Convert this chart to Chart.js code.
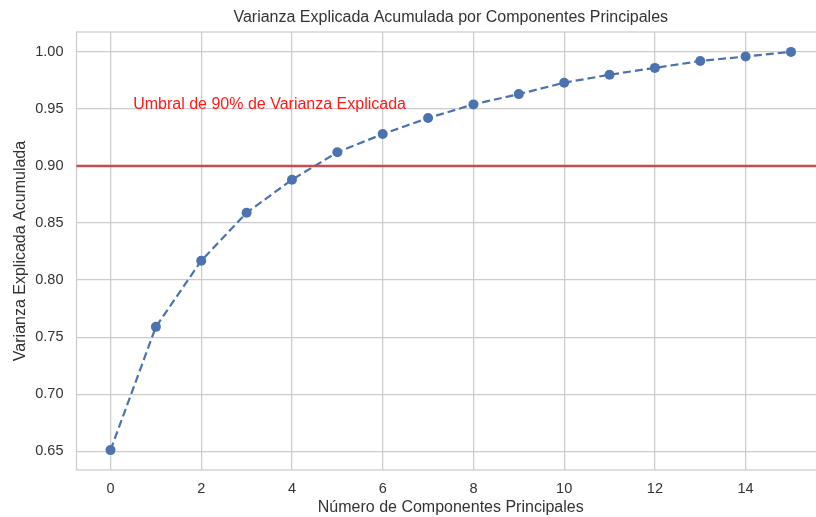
<!DOCTYPE html>
<html>
<head>
<meta charset="utf-8">
<script src="https://cdn.jsdelivr.net/npm/chart.js@4/dist/chart.umd.min.js"></script>
<style>
  html, body { margin: 0; padding: 0; background: #fff; overflow: hidden; }
  canvas { display: block; }
</style>
</head>
<body>
<canvas id="pcaChart" width="830" height="517"></canvas>
<script>
// data
const components = [0, 1, 2, 3, 4, 5, 6, 7, 8, 9, 10, 11, 12, 13, 14, 15];
const cumVariance = [0.651, 0.759, 0.817, 0.859, 0.888, 0.912, 0.928, 0.942,
                     0.954, 0.963, 0.973, 0.980, 0.986, 0.992, 0.996, 1.000];
const threshold = 0.90;
const thresholdLabel = 'Umbral de 90% de Varianza Explicada';
const labelAt = { x: 0.5, y: 0.95 };
const xTicks = [0, 2, 4, 6, 8, 10, 12, 14];
const yTicks = [0.65, 0.70, 0.75, 0.80, 0.85, 0.90, 0.95, 1.00];

const FONT = "'Liberation Sans', Arial, sans-serif";
const TEXT = '#333333';
const GRID = '#cccccc';

// matplotlib-style 5% margins around the data
const xMin = components[0] - 0.05 * (components[components.length - 1] - components[0]);
const xMax = components[components.length - 1] + 0.05 * (components[components.length - 1] - components[0]);
const yLo = Math.min(...cumVariance), yHi = Math.max(...cumVariance);
const yMin = yLo - 0.05 * (yHi - yLo);
const yMax = yHi + 0.05 * (yHi - yLo);

const frame = {
  id: 'frame',
  beforeDatasetsDraw(chart) {
    const { ctx, chartArea: a } = chart;
    ctx.save();
    ctx.strokeStyle = GRID;
    ctx.lineWidth = 1.25;
    ctx.strokeRect(a.left, a.top, a.right - a.left, a.bottom - a.top);
    ctx.restore();
  },
  afterDatasetsDraw(chart) {
    const { ctx, chartArea: a, scales } = chart;
    const y = scales.y.getPixelForValue(threshold);
    ctx.save();
    ctx.strokeStyle = '#c44e52';
    ctx.lineWidth = 2.5;
    ctx.beginPath();
    ctx.moveTo(a.left, y);
    ctx.lineTo(a.right, y);
    ctx.stroke();
    ctx.fillStyle = '#ff1a1a';
    ctx.font = '16px ' + FONT;
    ctx.textBaseline = 'alphabetic';
    ctx.textAlign = 'left';
    ctx.fillText(thresholdLabel, scales.x.getPixelForValue(labelAt.x), scales.y.getPixelForValue(labelAt.y));
    ctx.restore();
  }
};

new Chart(document.getElementById('pcaChart'), {
  type: 'line',
  data: {
    datasets: [{
      data: components.map((c, i) => ({ x: c, y: cumVariance[i] })),
      borderColor: '#4c72b0',
      backgroundColor: '#4c72b0',
      borderWidth: 2.2,
      borderDash: [8, 4],
      pointRadius: 5,
      pointBorderWidth: 0,
      pointBackgroundColor: '#4c72b0',
      tension: 0,
      fill: false
    }]
  },
  options: {
    responsive: false,
    animation: false,
    layout: { padding: { left: 0, right: 3, top: 0, bottom: 0 } },
    plugins: {
      legend: { display: false },
      tooltip: { enabled: false },
      title: {
        display: true,
        fullSize: false,
        text: 'Varianza Explicada Acumulada por Componentes Principales',
        color: TEXT,
        font: { family: FONT, size: 16, weight: 'normal' },
        padding: { top: 8, bottom: 4.8 }
      }
    },
    scales: {
      x: {
        type: 'linear',
        min: xMin,
        max: xMax,
        afterBuildTicks: s => { s.ticks = xTicks.map(v => ({ value: v })); },
        afterFit: s => { s.height = 47; },
        grid: { color: GRID, lineWidth: 1.25, drawTicks: false },
        border: { display: false },
        ticks: { color: TEXT, font: { family: FONT, size: 14.5 }, padding: 10, callback: v => String(v) },
        title: {
          display: true,
          text: 'Número de Componentes Principales',
          color: TEXT,
          font: { family: FONT, size: 16 },
          padding: { top: 0, bottom: 0 }
        }
      },
      y: {
        type: 'linear',
        min: yMin,
        max: yMax,
        afterBuildTicks: s => { s.ticks = yTicks.map(v => ({ value: v })); },
        afterFit: s => { s.width = 76.5; },
        grid: { color: GRID, lineWidth: 1.25, drawTicks: false },
        border: { display: false },
        ticks: { color: TEXT, font: { family: FONT, size: 14.5 }, padding: 13, callback: v => v.toFixed(2) },
        title: {
          display: true,
          text: 'Varianza Explicada Acumulada',
          color: TEXT,
          font: { family: FONT, size: 16 },
          padding: { top: 10.8, bottom: 0 }
        }
      }
    }
  },
  plugins: [frame]
});
</script>
</body>
</html>
